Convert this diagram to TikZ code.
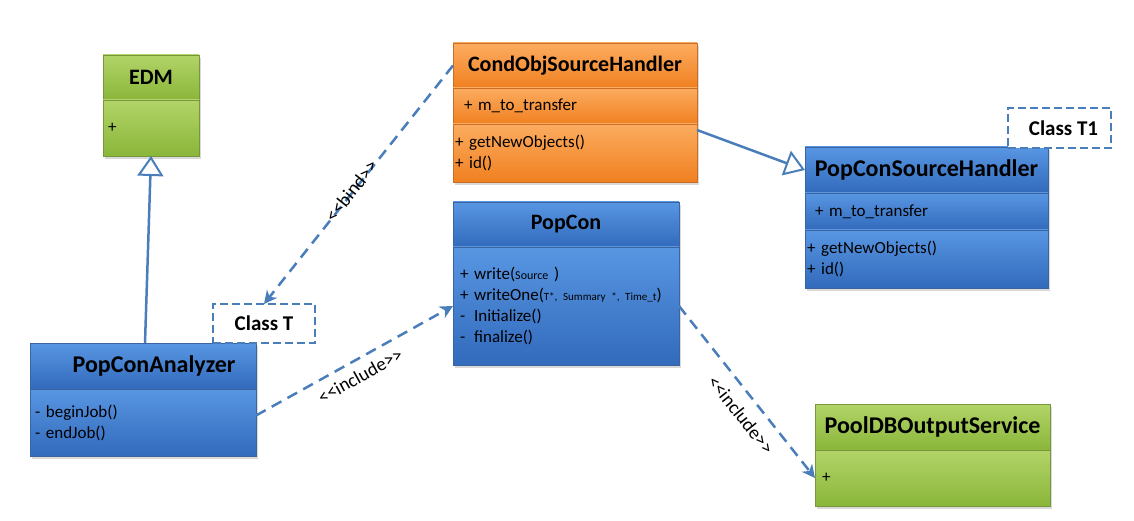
\documentclass[tikz,border=0pt]{standalone}
\usepackage{fontspec}
\setmainfont{Carlito}
\usetikzlibrary{arrows.meta,shadows}
\definecolor{lnk}{RGB}{74,126,187}
\definecolor{blueT}{RGB}{88,150,226}
\definecolor{blueB}{RGB}{50,106,188}
\definecolor{blueD}{RGB}{60,100,160}
\definecolor{orT}{RGB}{252,172,96}
\definecolor{orB}{RGB}{240,128,32}
\definecolor{orD}{RGB}{200,110,40}
\definecolor{grT}{RGB}{178,212,104}
\definecolor{grB}{RGB}{138,182,58}
\definecolor{grD}{RGB}{120,150,60}
\newcommand\stlt{<\kern0pt<}
\newcommand\stgt{>\kern0pt>}
\newcommand\dashitem{\leavevmode\rlap{-}\hphantom{+ }}
\tikzset{
  comp/.style={rectangle, anchor=north west, outer sep=0pt, inner ysep=0pt, line width=0.8pt,
    drop shadow={opacity=0.3, shadow xshift=2pt, shadow yshift=-3pt}},
  bluecomp/.style={comp, draw=blueD, top color=blueT, bottom color=blueB},
  orcomp/.style={comp, draw=orD, top color=orT, bottom color=orB},
  grcomp/.style={comp, draw=grD, top color=grT, bottom color=grB},
  ttl/.style={font=\fontsize{22}{26}\selectfont\bfseries, align=center, inner xsep=2pt},
  bigttl/.style={ttl, font=\fontsize{24}{28}\selectfont\bfseries},
  body/.style={font=\fontsize{17}{21}\selectfont, align=left},
  gen/.style={draw=lnk, line width=2.5pt, -{Triangle[length=20pt, width=26pt, fill=white, line width=2pt]}},
  dep/.style={draw=lnk, line width=2.5pt, dash pattern=on 11pt off 7pt, -{Stealth[length=13pt, width=13pt, inset=4pt]}},
  lbl/.style={font=\fontsize{19}{22}\selectfont, sloped, inner sep=1pt},
  tparam/.style={draw=lnk, line width=2.5pt, dash pattern=on 8pt off 4pt, fill=white, rectangle,
    anchor=north west, outer sep=0pt, inner sep=0pt, align=center, font=\fontsize{21}{24}\selectfont\bfseries}
}
\begin{document}
\begin{tikzpicture}[x=1pt,y=-1pt]
\useasboundingbox (0,0) rectangle (1134,521);

% EDM
\node[grcomp, ttl, minimum height=45pt, text width=92pt] (edm-t) at (103,55) {EDM};
\node[grcomp, body, minimum height=56pt, text width=86pt, inner xsep=5pt] (edm-b) at (edm-t.south west) {+};

% CondObjSourceHandler
\node[orcomp, ttl, minimum height=45pt, text width=240pt] (cond-t) at (453,43) {CondObjSourceHandler};
\node[orcomp, body, minimum height=36pt, text width=222pt, inner xsep=11pt] (cond-a) at (cond-t.south west) {+ m\_to\_transfer};
\node[orcomp, body, minimum height=58pt, text width=240pt, inner xsep=2pt] (cond-m) at (cond-a.south west) {+ getNewObjects()\\+ id()};

% PopConSourceHandler
\node[bluecomp, bigttl, minimum height=46pt, text width=239pt] (psh-t) at (805,147) {PopConSourceHandler};
\node[bluecomp, body, minimum height=37pt, text width=223pt, inner xsep=10pt] (psh-a) at (psh-t.south west) {+ m\_to\_transfer};
\node[bluecomp, body, minimum height=58pt, text width=239pt, inner xsep=2pt] (psh-m) at (psh-a.south west) {+ getNewObjects()\\+ id()};

% PopCon
\node[bluecomp, ttl, minimum height=45pt, text width=222pt] (pc-t) at (453,202) {PopCon\hspace*{15pt}};
\node[bluecomp, body, minimum height=118pt, text width=212pt, inner xsep=7pt] (pc-b) at (pc-t.south west)
  {+ write({\fontsize{12}{14}\selectfont Source })\\
   + writeOne({\fontsize{11}{13}\selectfont T*, Summary *, Time\_t})\\
   \dashitem Initialize()\\
   \dashitem finalize()};

% PopConAnalyzer
\node[bluecomp, bigttl, minimum height=46pt, text width=222pt] (pca-t) at (30,343) {\hspace*{22pt}PopConAnalyzer};
\node[bluecomp, body, minimum height=67pt, text width=216pt, inner xsep=5pt] (pca-b) at (pca-t.south west) {- beginJob()\\- endJob()};

% PoolDBOutputService
\node[grcomp, bigttl, minimum height=46pt, text width=231pt] (pool-t) at (815,404) {PoolDBOutputService};
\node[grcomp, body, minimum height=56pt, text width=221pt, inner xsep=7pt] (pool-b) at (pool-t.south west) {+};

% template parameters
\node[tparam, minimum width=102pt, minimum height=39pt] (ct) at (213,304) {Class T};
\node[tparam, minimum width=103pt, minimum height=40pt] (ct1) at (1008,108) {\hspace*{8pt}Class T1};

% connectors
\draw[gen] ([xshift=2pt]pca-t.north) -- (edm-b.south);
\draw[gen] ([yshift=-6pt]cond-m.north east) -- (psh-t.west);
\draw[dep] (cond-t.west) -- node[lbl, pos=0.53, above=-7pt] {\stlt bind\stgt} (ct.north);
\draw[dep] ([yshift=7pt]pca-b.east) -- node[lbl, pos=0.49, below=7pt] {\stlt include\stgt} (pc-b.west);
\draw[dep] (pc-b.east) -- node[lbl, pos=0.565, below=10pt] {\stlt include\stgt} (pool-b.west);
\end{tikzpicture}
\end{document}
